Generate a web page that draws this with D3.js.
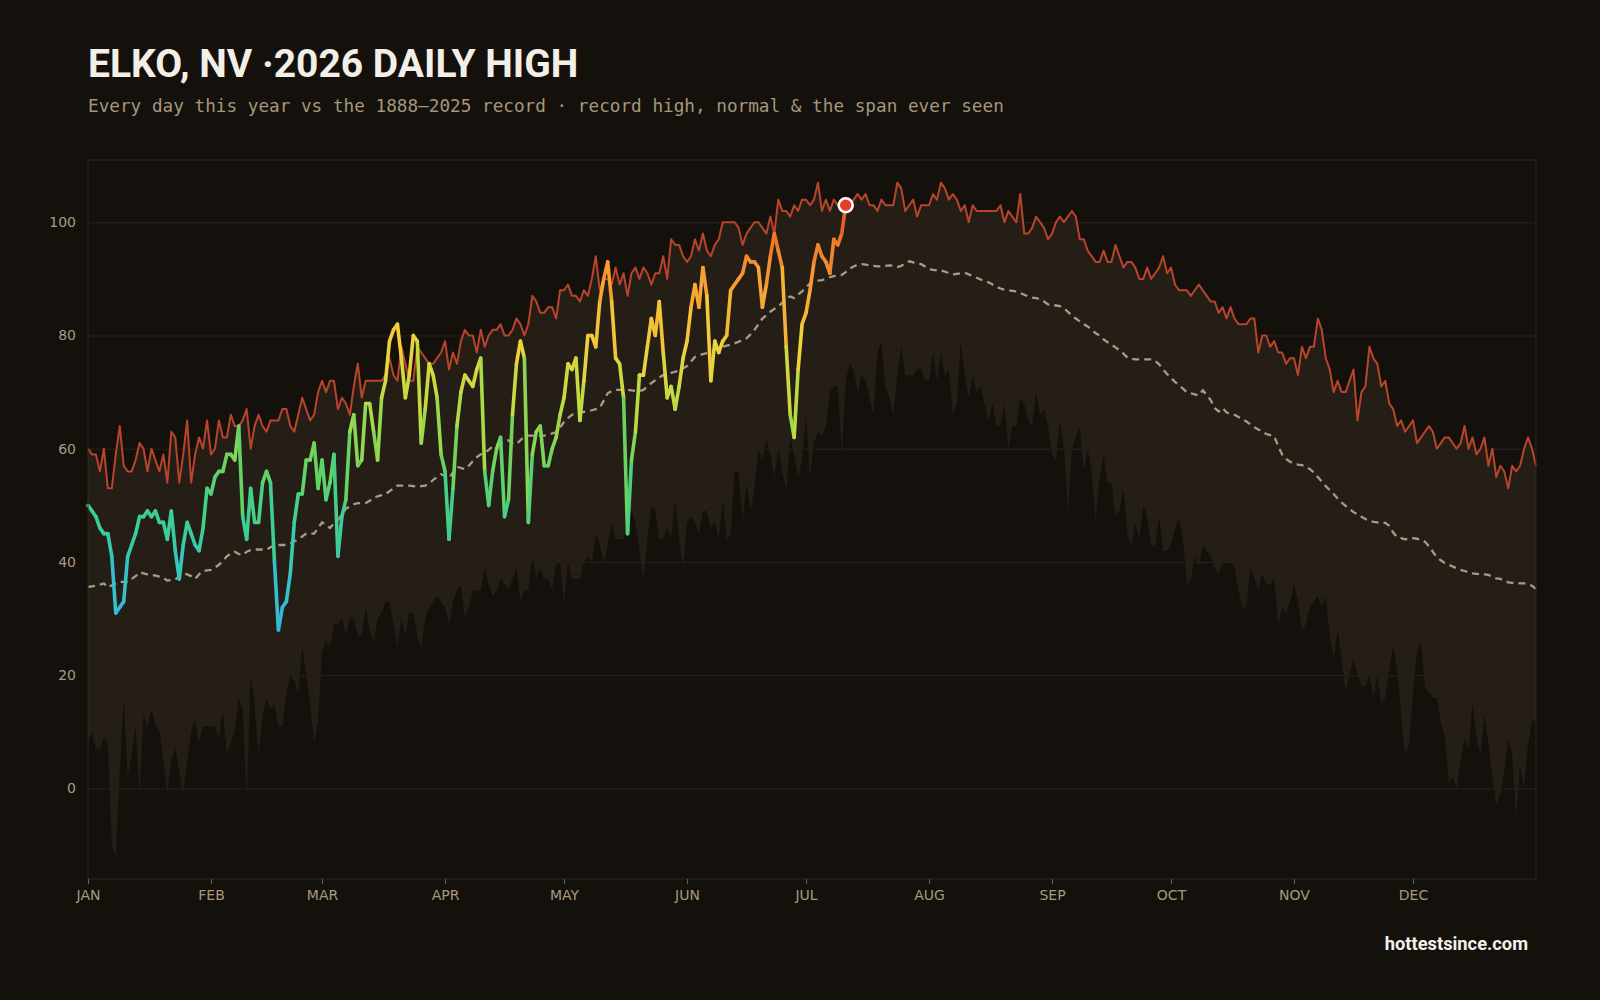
<!DOCTYPE html>
<html>
<head>
<meta charset="utf-8">
<script src="https://cdn.jsdelivr.net/npm/d3@7"></script>
<style>
  body { margin: 0; background: #14110d; }
  svg { display: block; }
</style>
</head>
<body>
<svg id="chart"></svg>
<script>
// month labels for the x axis
const monthLabels = ["JAN", "FEB", "MAR", "APR", "MAY", "JUN", "JUL", "AUG", "SEP", "OCT", "NOV", "DEC"];
const yTicks = [0, 20, 40, 60, 80, 100];

// record high by day of year (1888-2025), Jan 1 .. Jan 1 next year
const recordHigh = [
  60,59,59,56,60,53,53,59,64,57, 56,56,58,61,60,56,60,58,56,59,
  54,63,62,54,59,65,54,59,62,60, 65,59,60,65,62,62,66,64,64,65,
  67,60,64,66,64,63,65,65,65,67, 67,64,63,66,69,67,65,66,70,72,
  70,72,72,67,69,68,66,71,75,69, 72,72,72,72,72,73,76,73,72,78,
  75,72,72,78,77,76,75,75,76,77, 79,74,77,75,79,81,80,80,77,81,
  78,80,81,81,82,80,80,81,83,82, 80,82,87,86,84,84,85,85,83,88,
  88,89,87,87,86,88,87,90,94,88, 90,90,89,92,89,91,87,91,92,90,
  92,91,89,91,91,94,90,97,96,96, 94,93,94,97,95,98,95,94,96,97,
  100,100,100,100,99,96,98,99,100,100, 99,98,101,98,104,102,102,101,103,102,
  104,104,103,104,107,102,104,102,104,103, 104,104,103,104,105,104,105,103,103,102,
  104,103,103,103,107,106,102,103,104,101, 103,103,103,105,104,107,106,104,105,104,
  102,103,100,103,102,102,102,102,102,102, 103,100,102,101,100,105,98,98,99,101,
  100,99,97,98,100,101,100,101,102,101, 97,97,95,94,93,93,95,93,93,96,
  94,92,93,93,92,90,90,92,90,91, 92,94,91,92,89,88,88,88,87,88,
  89,88,87,86,86,84,85,83,85,83, 82,82,82,83,83,77,80,80,78,79,
  77,77,75,76,76,73,78,76,78,78, 83,81,76,74,70,72,70,70,72,74,
  65,70,71,78,76,75,71,72,68,67, 64,65,63,64,65,61,62,63,64,63,
  60,61,62,62,61,60,61,64,60,62, 59,60,62,57,60,55,57,56,53,57,
  56,57,60,62,60,57
];

// lowest daily high ever seen, same days
const recordLow = [
  8,10,7,7,9,8,-10,-12,3,16, 2,6,11,-1,13,11,14,11,10,5,
  -1,5,7,3,-1,5,10,12,8,11, 11,11,11,9,14,6,8,10,16,14,
  -2,20,15,6,13,16,14,15,11,11, 17,20,19,17,25,20,15,8,12,24,
  26,25,29,29,30,27,30,30,27,27, 32,28,26,30,31,33,33,29,25,30,
  27,31,31,27,25,30,32,33,34,33, 32,29,33,35,36,30,32,35,35,35,
  39,36,34,35,37,36,35,37,39,33, 35,35,41,37,39,37,37,35,40,40,
  33,40,37,37,37,40,41,40,45,43, 40,43,47,44,44,44,49,49,47,42,
  37,44,50,49,44,44,46,44,51,44, 39,47,48,47,45,49,49,46,47,44,
  51,44,45,56,56,47,54,49,53,60, 58,62,59,55,60,56,53,62,59,55,
  58,66,55,61,63,62,64,70,71,71, 59,72,75,74,70,73,72,69,66,77,
  79,71,69,66,73,78,73,73,73,74, 74,72,72,77,72,77,73,74,66,68,
  79,73,69,73,70,71,68,65,68,64, 64,68,60,64,64,69,68,65,64,70,
  66,67,64,59,58,65,60,49,60,62, 64,56,60,56,47,55,59,54,54,48,
  49,53,45,43,47,44,50,48,43,43, 48,42,42,43,46,48,44,36,37,41,
  39,43,42,41,39,38,40,40,40,39, 35,32,32,39,37,35,38,36,36,37,
  29,32,31,33,36,33,28,29,32,33, 34,32,34,27,23,28,23,17,20,23,
  20,18,18,20,16,20,15,16,21,25, 21,13,6,8,17,24,26,18,17,16,
  16,12,9,1,2,0,5,9,7,15, 9,6,13,8,2,-3,-1,3,9,6,
  -5,4,0,8,12,12
];

// normal daily high
const normalHigh = [
  35.6,35.7,35.8,36.0,36.2,35.5,35.9,36.2,36.5,36.5, 36.5,37.0,37.5,38.2,38.0,37.8,37.7,37.6,37.4,37.2,
  36.7,36.8,36.9,37.5,38.0,37.8,37.5,37.0,37.8,38.4, 38.5,38.6,39.0,39.5,40.2,41.0,41.5,41.8,41.4,41.2,
  41.8,42.1,42.2,42.2,42.2,42.2,42.6,43.0,43.0,43.0, 43.0,43.3,43.6,44.0,44.5,45.0,45.0,45.0,46.0,47.0,
  46.5,46.0,46.8,47.4,48.4,49.4,49.8,50.2,50.4,50.4, 50.4,50.8,51.3,51.6,51.8,52.0,52.5,53.0,53.5,53.5,
  53.5,53.5,53.4,53.3,53.4,53.5,53.8,54.5,55.0,55.5, 55.2,54.8,55.8,56.8,56.6,56.4,57.0,57.8,58.5,59.0,
  59.2,59.8,60.4,60.6,61.0,61.3,61.5,61.0,60.8,61.5, 62.2,62.3,62.3,62.3,62.3,62.3,62.5,62.7,62.9,63.8,
  64.7,65.4,66.0,66.2,66.4,66.5,66.6,66.8,67.0,67.2, 68.5,69.8,70.2,70.4,70.4,70.4,70.4,70.3,70.2,70.2,
  70.4,71.0,71.6,72.1,72.6,73.0,73.3,73.4,73.6,73.8, 74.2,74.6,75.4,76.2,76.5,76.7,76.9,77.2,77.5,77.8,
  78.0,78.2,78.4,78.6,78.9,79.2,79.5,80.2,81.0,82.0, 83.0,83.6,84.2,84.7,85.1,85.8,86.5,86.9,86.6,87.2,
  87.8,88.5,89.2,89.5,89.7,89.8,90.0,90.3,90.5,90.6, 90.7,91.2,91.8,92.2,92.5,92.6,92.5,92.4,92.3,92.2,
  92.2,92.3,92.4,92.3,92.1,92.3,92.8,93.1,92.9,92.7, 92.6,92.2,91.7,91.6,91.5,91.5,91.3,91.0,90.8,90.9,
  91.0,91.1,90.8,90.5,90.2,89.9,89.6,89.4,89.0,88.6, 88.3,88.1,88.0,87.9,87.8,87.5,87.2,86.9,86.7,86.6,
  86.4,86.0,85.5,85.4,85.3,85.2,84.8,84.2,83.5,83.0, 82.5,82.0,81.6,81.0,80.4,80.0,79.3,78.8,78.4,77.9,
  77.4,76.8,76.1,75.9,75.8,75.8,75.8,75.8,75.8,75.5, 74.9,74.0,73.2,72.5,71.8,71.2,70.6,70.0,69.8,69.6,
  69.4,70.3,69.5,68.6,67.2,66.6,67.2,66.4,66.2,66.0, 65.6,65.2,64.8,64.3,63.8,63.4,63.0,62.6,62.4,62.2,
  60.5,59.0,58.2,57.7,57.4,57.2,57.1,56.8,56.4,55.8, 55.0,54.2,53.4,52.7,52.0,51.2,50.5,49.9,49.4,48.8,
  48.4,48.0,47.6,47.3,47.1,47.0,47.0,46.9,46.4,45.2, 44.4,44.2,44.0,44.1,44.2,44.1,43.9,43.6,42.8,41.8,
  40.8,40.3,39.8,39.5,39.2,38.9,38.6,38.4,38.2,38.0, 37.9,37.8,37.8,37.7,37.4,37.1,37.0,36.7,36.4,36.3,
  36.3,36.2,36.2,36.1,35.8,35.2
];

// 2026 daily highs so far (Jan 1 .. Jul 11)
const actual2026 = [
  50,49,48,46,45,45,41,31,32,33, 41,43,45,48,48,49,48,49,47,47,
  44,49,42,37,43,47,45,43,42,46, 53,52,55,56,56,59,59,58,64,48,
  44,53,47,47,54,56,54,40,28,32, 33,38,47,52,52,58,58,61,53,58,
  51,54,59,41,48,51,63,66,57,58, 68,68,63,58,69,72,79,81,82,76,
  69,73,80,79,61,67,75,73,69,59, 56,44,53,64,70,73,72,71,74,76,
  56,50,56,60,62,48,51,66,75,79, 76,47,59,63,64,57,57,60,62,66,
  69,75,74,76,65,72,80,80,78,86, 90,93,86,76,75,69,45,58,63,73,
  73,78,83,80,86,77,69,71,67,71, 76,79,85,89,85,92,87,72,79,77,
  79,80,88,89,90,91,94,93,93,92, 85,89,94,98,95,92,78,66,62,74,
  82,84,88,93,96,94,93,91,97,96, 98,103
];

function drawChart() {
    var w = 1600;
    var h = 1000;
    var left = 88, right = 1536, top = 160, bottom = 879;

    var svg = d3.select("#chart")
        .attr("width", w)
        .attr("height", h);

    svg.append("rect")
        .attr("width", w)
        .attr("height", h)
        .attr("fill", "#14110d");

    // day index -> date in 2026
    const dayDate = i => new Date(Date.UTC(2026, 0, 1 + i));

    var xScale = d3.scaleUtc()
        .domain([dayDate(0), dayDate(365)])
        .range([left, right]);

    var yScale = d3.scaleLinear()
        .domain([d3.min(recordLow) - 4, d3.max(recordHigh) + 4])
        .range([bottom, top]);

    // temperature colour for this year's line
    var tempColor = d3.scaleLinear()
        .domain([28, 38, 48, 58, 68, 78, 88, 98, 104])
        .range(["#34b4e6", "#35c4c4", "#3ccf92", "#6dd35c", "#b9dc42", "#f2d23c", "#f6a732", "#f0702a", "#e2402a"])
        .clamp(true);

    // gridlines
    svg.append("g")
        .attr("transform", "translate(" + left + ",0)")
        .call(d3.axisLeft(yScale).tickValues(yTicks).tickSize(-(right - left)).tickFormat(""))
        .call(g => g.select(".domain").remove())
        .selectAll("line")
        .attr("stroke", "#2b231b");

    // span ever seen: record low to record high
    var band = d3.area()
        .x((d, i) => xScale(dayDate(i)))
        .y0((d, i) => yScale(recordLow[i]))
        .y1(d => yScale(d));

    svg.append("path")
        .datum(recordHigh)
        .attr("d", band)
        .attr("fill", "#241e16");

    // record high line
    var line = d3.line()
        .x((d, i) => xScale(dayDate(i)))
        .y(d => yScale(d));

    svg.append("path")
        .datum(recordHigh)
        .attr("d", line)
        .attr("fill", "none")
        .attr("stroke", "#b8452b")
        .attr("stroke-width", 2)
        .attr("stroke-linejoin", "round");

    // normal, dashed
    svg.append("path")
        .datum(normalHigh)
        .attr("d", line)
        .attr("fill", "none")
        .attr("stroke", "#a89c85")
        .attr("stroke-width", 2.3)
        .attr("stroke-dasharray", "7,5");

    // 2026 line, one coloured segment per day
    var pts = actual2026.map((v, i) => ({ i: i, v: v }));
    svg.append("g")
        .selectAll("line")
        .data(d3.pairs(pts))
        .join("line")
        .attr("x1", d => xScale(dayDate(d[0].i)))
        .attr("y1", d => yScale(d[0].v))
        .attr("x2", d => xScale(dayDate(d[1].i)))
        .attr("y2", d => yScale(d[1].v))
        .attr("stroke", d => tempColor((d[0].v + d[1].v) / 2))
        .attr("stroke-width", 3.6)
        .attr("stroke-linecap", "round");

    // today's marker
    var last = pts[pts.length - 1];
    svg.append("circle")
        .attr("cx", xScale(dayDate(last.i)))
        .attr("cy", yScale(last.v))
        .attr("r", 7)
        .attr("fill", "#e0402b")
        .attr("stroke", "#ffffff")
        .attr("stroke-width", 2.5);

    // frame
    svg.append("rect")
        .attr("x", left)
        .attr("y", top)
        .attr("width", right - left)
        .attr("height", bottom - top)
        .attr("fill", "none")
        .attr("stroke", "#2e2820");

    // y axis
    svg.append("g")
        .attr("transform", "translate(" + left + ",0)")
        .call(d3.axisLeft(yScale).tickValues(yTicks).tickSize(0).tickPadding(12))
        .call(g => g.select(".domain").remove())
        .selectAll("text")
        .style("font-family", "DejaVu Sans")
        .style("font-size", "14px")
        .attr("fill", "#a89b82");

    // x axis, month starts
    var monthStarts = d3.range(12).map(m => new Date(Date.UTC(2026, m, 1)));
    var xAxis = svg.append("g")
        .attr("transform", "translate(0," + bottom + ")")
        .call(d3.axisBottom(xScale).tickValues(monthStarts).tickFormat((d, i) => monthLabels[i]).tickSize(5).tickPadding(6));
    xAxis.select(".domain").remove();
    xAxis.selectAll("line").attr("stroke", "#6b6150");
    xAxis.selectAll("text")
        .style("font-family", "DejaVu Sans")
        .style("font-size", "14px")
        .attr("fill", "#a8997a");

    // title and subtitle
    svg.append("text")
        .attr("x", 88)
        .attr("y", 77)
        .style("font-family", "Roboto")
        .style("font-weight", "700")
        .style("font-size", "39px")
        .attr("fill", "#f3efe6")
        .text("ELKO, NV ·2026 DAILY HIGH");

    svg.append("text")
        .attr("x", 88)
        .attr("y", 112)
        .style("font-family", "DejaVu Sans Mono")
        .style("font-size", "17.7px")
        .attr("fill", "#a5977c")
        .text("Every day this year vs the 1888\u20132025 record \u00b7 record high, normal & the span ever seen");

    // footer
    svg.append("text")
        .attr("x", 1528)
        .attr("y", 950)
        .attr("text-anchor", "end")
        .style("font-family", "Roboto")
        .style("font-weight", "700")
        .style("font-size", "18.3px")
        .attr("fill", "#f5f1ea")
        .text("hottestsince.com");
}

window.onload = drawChart;
</script>
</body>
</html>
